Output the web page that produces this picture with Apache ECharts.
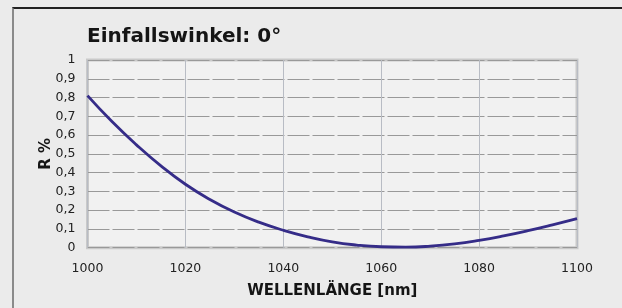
<!DOCTYPE html>
<html>
<head>
<meta charset="utf-8">
<script src="https://cdn.jsdelivr.net/npm/echarts@6/dist/echarts.min.js"></script>
<style>
  html, body { margin: 0; padding: 0; background: #ebebeb; }
  #frame { position: absolute; left: 12px; top: 7px; width: 610px; height: 301px;
           border-top: 2px solid #222; border-left: 2px solid #8a8a8a; box-sizing: border-box; }
  #chart { position: absolute; left: 0; top: 0; width: 622px; height: 308px; }
</style>
</head>
<body>
<div id="frame"></div>
<div id="chart"></div>
<script>
// Data
const wavelengths = [1000, 1005, 1010, 1015, 1020, 1025, 1030, 1035, 1040, 1045, 1050,
                     1055, 1060, 1065, 1070, 1075, 1080, 1085, 1090, 1095, 1100];
const reflectance = [0.81, 0.672, 0.548, 0.436, 0.338, 0.257, 0.19, 0.136, 0.093, 0.058, 0.031,
                     0.014, 0.005, 0.003, 0.008, 0.02, 0.039, 0.063, 0.091, 0.122, 0.155];
const titleText = 'Einfallswinkel: 0°';
const xAxisName = 'WELLENLÄNGE [nm]';
const yAxisName = 'R %';

const points = wavelengths.map((w, i) => [w, reflectance[i]]);

const chart = echarts.init(document.getElementById('chart'), null, { renderer: 'canvas' });
chart.setOption({
  backgroundColor: 'transparent',
  animation: false,
  title: {
    text: titleText,
    left: 82, top: 22,
    textStyle: { fontFamily: 'DejaVu Sans', fontWeight: 'bold', fontSize: 20, color: '#151515' }
  },
  grid: {
    left: 87.5, right: 45, top: 60, bottom: 60.3,
    show: true, backgroundColor: '#f1f1f1', borderColor: '#c9c9c9', borderWidth: 3
  },
  xAxis: {
    type: 'value', min: 1000, max: 1100, interval: 20,
    name: xAxisName, nameLocation: 'middle', nameGap: 36,
    nameTextStyle: { fontFamily: 'DejaVu Sans', fontWeight: 'bold', fontSize: 15, color: '#151515' },
    axisLine: { show: false }, axisTick: { show: false },
    axisLabel: { margin: 15, fontFamily: 'DejaVu Sans', fontSize: 12.5, color: '#222',
                 formatter: v => String(v) },
    splitLine: { show: true, lineStyle: { color: '#b8bcc4', width: 1 } }
  },
  yAxis: {
    type: 'value', min: 0, max: 1, interval: 0.1,
    name: yAxisName, nameLocation: 'middle', nameGap: 34, nameRotate: 90,
    nameMoveOverlap: false,
    nameTextStyle: { fontFamily: 'DejaVu Sans', fontWeight: 'bold', fontSize: 15, color: '#151515' },
    axisLine: { show: false }, axisTick: { show: false },
    axisLabel: {
      margin: 12, fontFamily: 'DejaVu Sans', fontSize: 12.5, color: '#222',
      formatter: v => String(Math.round(v * 10) / 10).replace('.', ',')
    },
    splitLine: { show: true, lineStyle: { color: '#999999', width: 1, type: [22, 3] } }
  },
  series: [{
    type: 'line', data: points, smooth: true, showSymbol: false,
    lineStyle: { color: '#352c88', width: 2.8 }
  }]
});
</script>
</body>
</html>
